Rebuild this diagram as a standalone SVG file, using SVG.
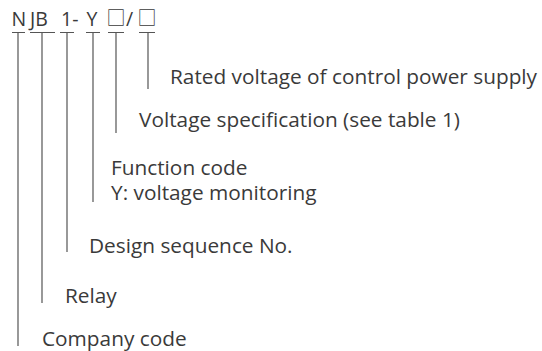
<svg xmlns="http://www.w3.org/2000/svg" width="542" height="351" viewBox="0 0 542 351">
<style>
text{font-family:"Open Sans","Noto Sans","DejaVu Sans",sans-serif;font-size:20.8px;fill:#3a3a3a}
.t{font-size:19.5px}
.b{font-family:"Noto Sans CJK SC",sans-serif;font-size:19px}
.ln{stroke:#555;stroke-width:1.2;fill:none}
</style>
<rect width="542" height="351" fill="#fff"/>
<g id="code">
<text class="t" x="11.5" y="26">N</text>
<text class="t" x="30" y="26">JB</text>
<text class="t" x="61" y="26">1-</text>
<text class="t" x="86.5" y="26">Y</text>
<text class="b" x="106.5" y="25">□</text>
<text class="t" x="126" y="26">/</text>
<text class="b" x="137.5" y="25">□</text>
</g>
<g id="connectors">
<path class="ln" d="M12 32.5H25M18 32.5V346"/>
<path class="ln" d="M30 32.5H55M42 32.5V303"/>
<path class="ln" d="M60 32.5H74M67 32.5V252"/>
<path class="ln" d="M86 32.5H100M93 32.5V202"/>
<path class="ln" d="M108 32.5H124M116 32.5V133"/>
<path class="ln" d="M139 32.5H155M148 32.5V89"/>
</g>
<g id="n-rated"><text x="170" y="84">Rated voltage of control power supply</text></g>
<g id="n-voltage"><text x="139" y="127">Voltage specification (see table 1)</text></g>
<g id="n-function"><text x="111" y="175">Function code</text><text x="111" y="200">Y: voltage monitoring</text></g>
<g id="n-design"><text x="89" y="253">Design sequence No.</text></g>
<g id="n-relay"><text x="65" y="303">Relay</text></g>
<g id="n-company"><text x="42" y="346">Company code</text></g>
</svg>
